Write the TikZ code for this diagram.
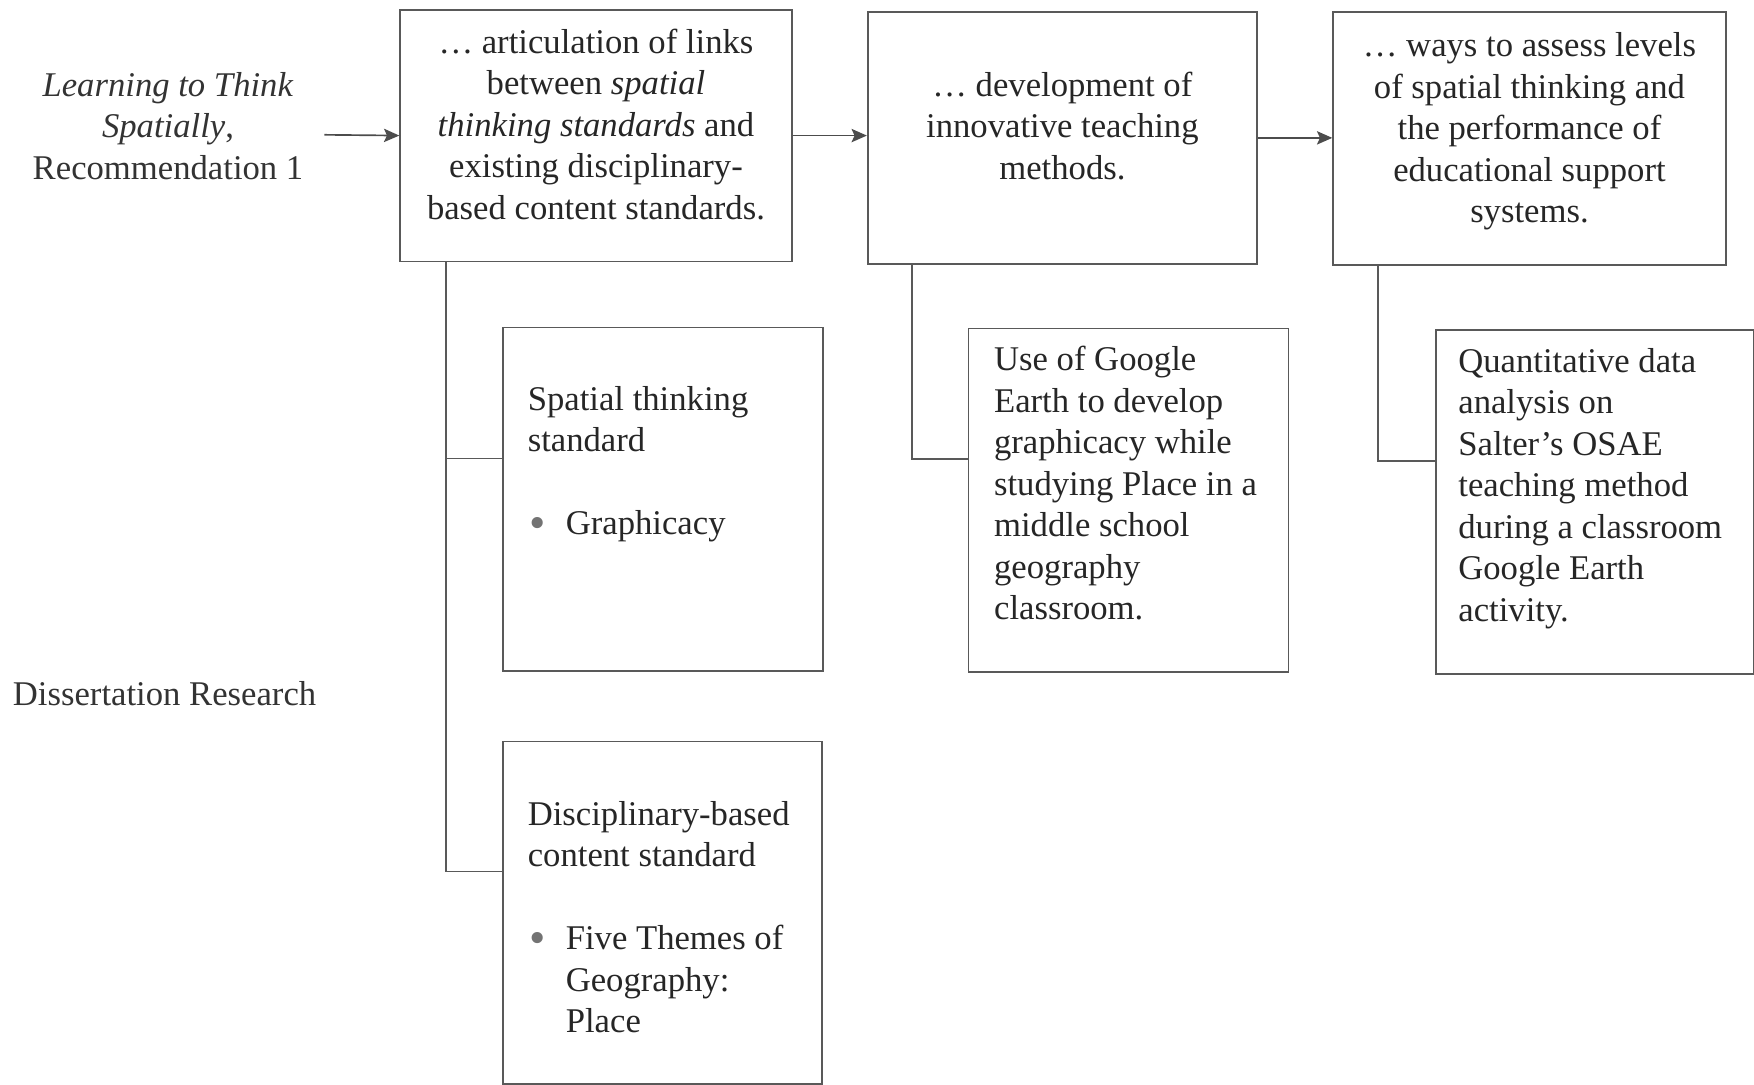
\documentclass[tikz,border=0pt]{standalone}
\usepackage{fontspec}
\setmainfont{Liberation Serif}
\usetikzlibrary{arrows.meta,calc}
\newcommand\bxt[4]{\parbox[c][#2][t]{#1}{\fontsize{10.4}{12.45}\selectfont\vspace*{#3}#4}}
\newcommand\bul{\makebox[11.4pt][l]{\hspace{0.6pt}\raisebox{-1.2pt}{\textcolor{black!55}{\fontsize{14}{12.45}\selectfont\textbullet}}}}
\tikzset{
  box/.style={draw=black!65, line width=0.5pt, inner sep=0pt, anchor=north west, text=black!85},
  conn/.style={draw=black!65, line width=0.5pt},
  arr/.style={draw=black!70, line width=0.5pt, -{Stealth[length=4.6pt,width=4pt,inset=0.9pt]}},
  lbl/.style={text=black!80, font=\fontsize{10.4}{12.45}\selectfont}
}
\begin{document}
\begin{tikzpicture}[x=0.3pt,y=-0.3pt]
\useasboundingbox (0,0) rectangle (1754,1084);

% top boxes
\node[box] (A) at (399.3,8.9) {\bxt{117.5pt}{75.5pt}{4.4pt}{\centering\strut … articulation of links\\
between \textit{spatial}\\
\textit{thinking standards} and\\
existing disciplinary-\\
based content standards.}};

\node[box] (B) at (866.9,11.2) {\bxt{116.8pt}{75.5pt}{16.5pt}{\centering\strut … development of\\
innovative teaching\\
methods.}};

\node[box] (C) at (1332.3,11.2) {\bxt{117.8pt}{75.8pt}{4.7pt}{\centering\strut … ways to assess levels\\
of spatial thinking and\\
the performance of\\
educational support\\
systems.}};

% lower boxes
\node[box] (D) at (502.3,326.6) {\bxt{96pt}{103pt}{16.1pt}{\raggedright\leftskip=7.4pt\strut Spatial thinking\\
standard\par\vspace{12.45pt}
\hangindent=11.4pt\hangafter=1\strut\bul Graphicacy}};

\node[box] (E) at (502.3,740.5) {\bxt{95.6pt}{102.7pt}{16.5pt}{\raggedright\leftskip=7.4pt\strut Disciplinary-based\\
content standard\par\vspace{12.45pt}
\hangindent=11.4pt\hangafter=1\strut\bul Five Themes of\newline
Geography:\newline
Place}};

\node[box] (F) at (967.6,327.7) {\bxt{96pt}{103pt}{4.0pt}{\raggedright\leftskip=7.7pt\strut Use of Google\\
Earth to develop\\
graphicacy while\\
studying Place in a\\
middle school\\
geography\\
classroom.}};

\node[box] (G) at (1435.2,328.9) {\bxt{95.3pt}{103.3pt}{4.0pt}{\raggedright\leftskip=6.7pt\strut Quantitative data\\
analysis on\\
Salter’s OSAE\\
teaching method\\
during a classroom\\
Google Earth\\
activity.}};

% left labels
\node[lbl, align=center] (L) at (168,126) {\textit{Learning to Think}\\ \textit{Spatially},\\ Recommendation 1};
\node[lbl, anchor=west, inner sep=0pt] (DR) at (12.3,693.5) {Dissertation Research};

% arrows
\coordinate (src) at (324.4,134.8);
\draw[arr] (src) -- (A.west);
\draw[arr] (A.east) -- (A.east -| B.west);
\draw[arr] (B.east) -- (B.east -| C.west);

% tree connectors
\draw[conn] ($(A.south west)+(47,0)$) |- ($(D.north west)+(0,132)$);
\draw[conn] ($(A.south west)+(47,0)$) |- ($(E.north west)+(0,131)$);
\draw[conn] ($(B.south west)+(45,0)$) |- ($(F.north west)+(0,131)$);
\draw[conn] ($(C.south west)+(46,0)$) |- ($(G.north west)+(0,132)$);
\end{tikzpicture}
\end{document}
